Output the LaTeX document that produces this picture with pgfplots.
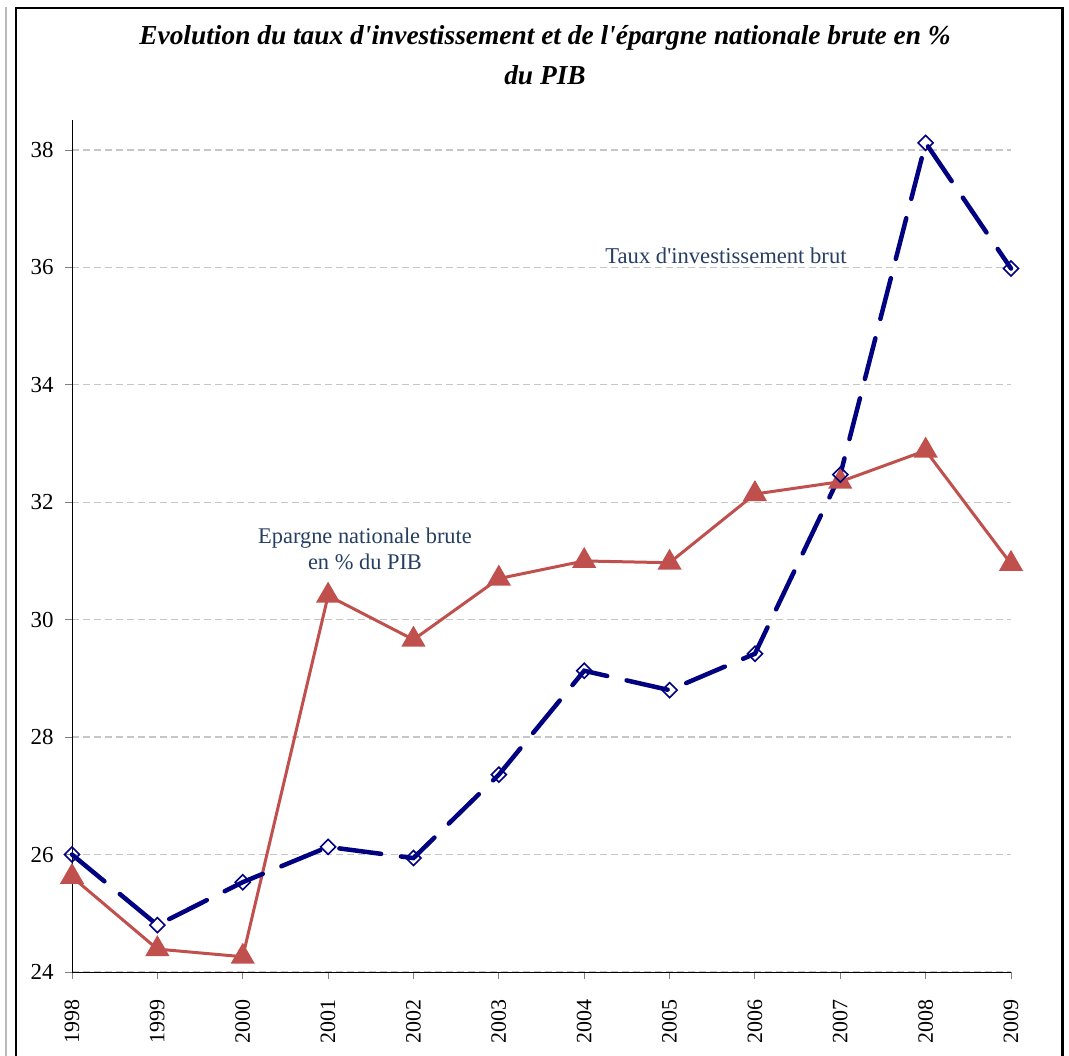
\documentclass[border=0pt]{standalone}
\usepackage{pgfplots}
\pgfplotsset{compat=1.18}
\usepackage{fontspec}
\setmainfont{Liberation Serif}
\newfontfamily\rawserif{Liberation Serif}
\definecolor{navyl}{RGB}{0,0,128}
\definecolor{redl}{RGB}{192,80,77}
\definecolor{annot}{RGB}{38,62,98}
\begin{document}
\begin{tikzpicture}[x=1bp,y=1bp]
\useasboundingbox (0,0) rectangle (1069,1056);
\draw[gray!55, line width=2bp] (6,1049) -- (6,-5);
\draw[black, line width=2.2bp] (16,-5) -- (16,1048) -- (1062.5,1048) -- (1062.5,-5);
\node[font=\rawserif\fontsize{27.5}{40}\selectfont\bfseries\itshape, align=center] at (545,1001) {Evolution du taux d'investissement et de l'épargne nationale brute en \%\\du PIB};
\begin{axis}[
  at={(72bp,84bp)}, anchor=south west,
  scale only axis, width=939bp, height=852bp,
  xmin=1998, xmax=2009, ymin=24, ymax=38.51,
  axis x line*=bottom, axis y line*=left,
  axis line style={black, line width=0.8bp, -},
  xtick={1998,...,2009}, ytick={24,26,...,38},
  xticklabel style={rotate=90, anchor=east, font=\fontsize{22}{22}\selectfont},
  yticklabel style={font=\fontsize{23}{23}\selectfont},
  /pgf/number format/assume math mode=true,
  xticklabel={\pgfmathprintnumber[1000 sep={}]{\tick}},
  tick align=outside, major tick length=7bp,
  tick style={gray, line width=0.8bp},
  xticklabel shift=17bp, yticklabel shift=8bp,
  ymajorgrids, grid style={gray!45, line width=1.3bp, dash pattern=on 7bp off 4bp},
  clip=false,
]
\addplot[redl, line width=3bp, mark=triangle*, mark size=11bp, mark options={solid, fill=redl, draw=redl}] coordinates {
(1998,25.62) (1999,24.39) (2000,24.26) (2001,30.41) (2002,29.66) (2003,30.70)
(2004,31.00) (2005,30.97) (2006,32.14) (2007,32.35) (2008,32.88) (2009,30.95)};
\addplot[navyl, line width=4.5bp, dash pattern=on 42bp off 20bp, line cap=round, mark=square, mark size=5.3bp, mark options={solid, rotate=45, fill=white, draw=navyl, line width=1.6bp}] coordinates {
(1998,26.00) (1999,24.80) (2000,25.53) (2001,26.13) (2002,25.94) (2003,27.36)
(2004,29.13) (2005,28.80) (2006,29.42) (2007,32.47) (2008,38.12) (2009,35.98)};
\end{axis}
\node[annot, font=\rawserif\fontsize{22.7}{22.7}\selectfont] at (726,800) {Taux d'investissement brut};
\node[annot, font=\rawserif\fontsize{22.5}{26}\selectfont, align=center] at (365,507) {Epargne nationale brute\\en \% du PIB};
\end{tikzpicture}
\end{document}
